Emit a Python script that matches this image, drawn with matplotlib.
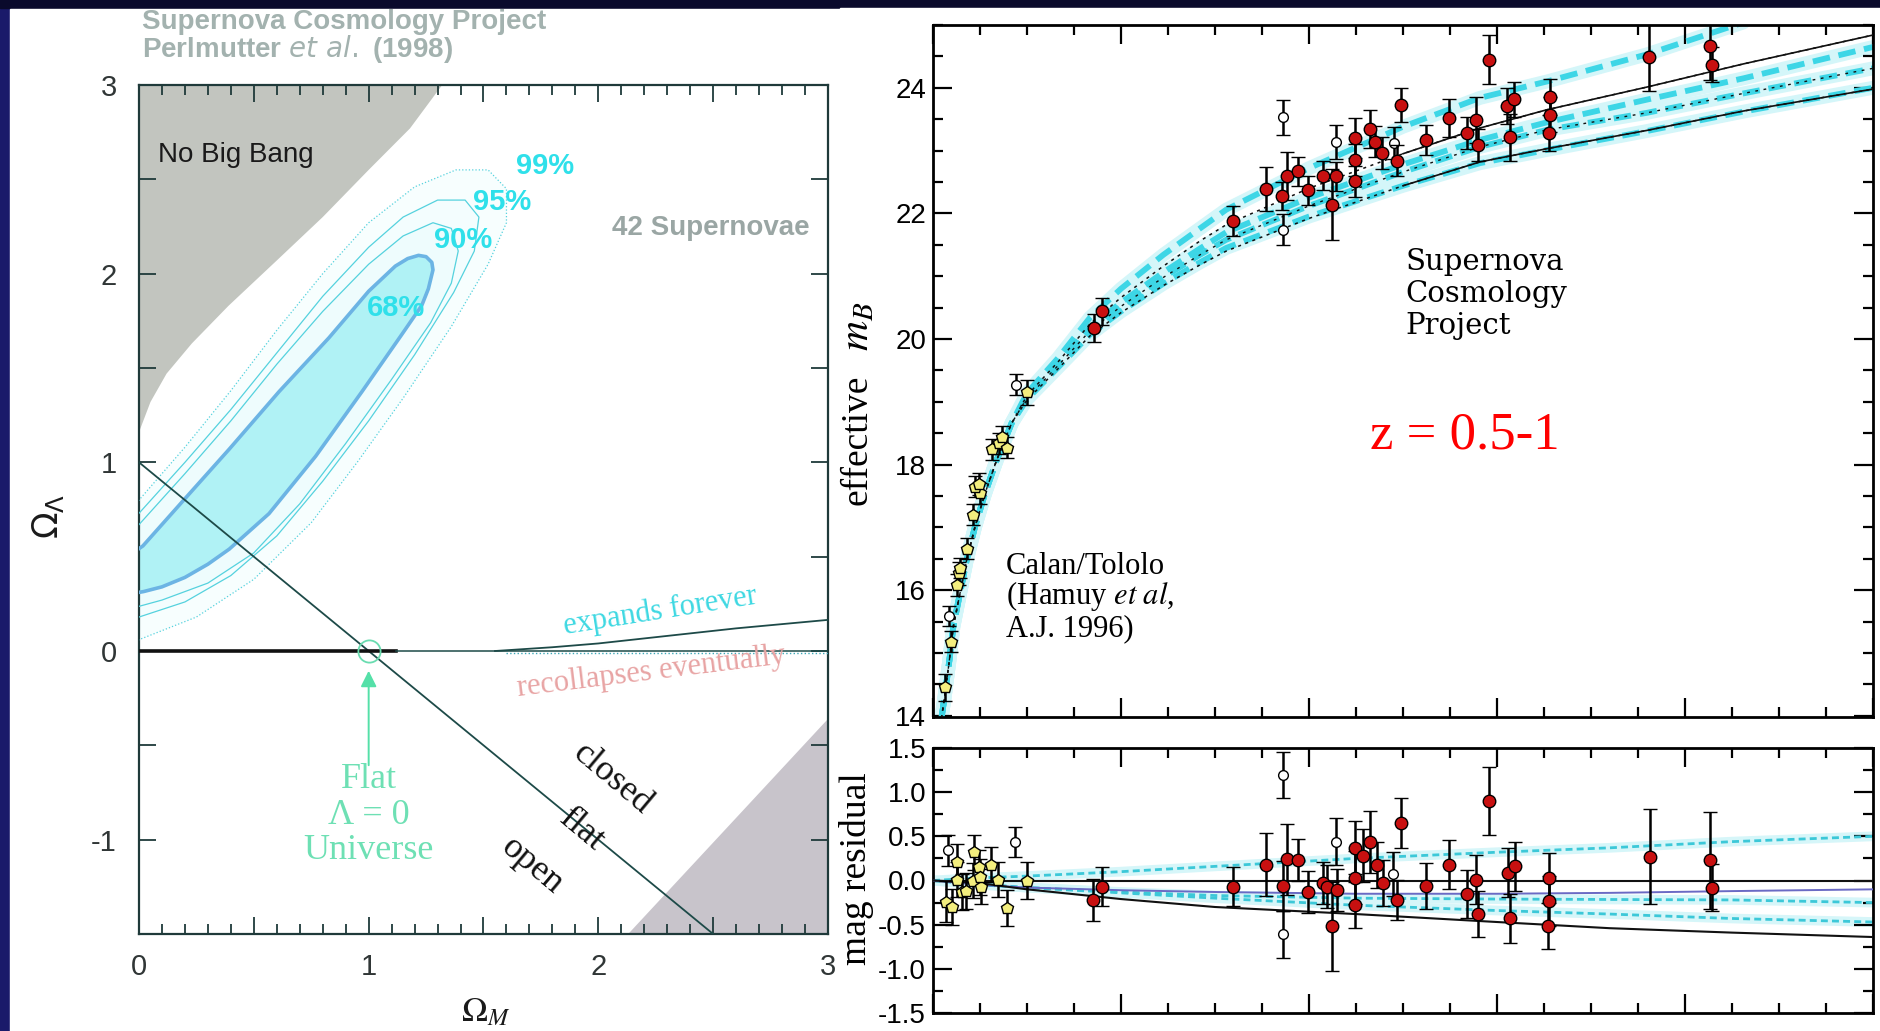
import numpy as np
import matplotlib
matplotlib.use("Agg")
import matplotlib.pyplot as plt
from matplotlib.patches import Rectangle, Polygon
from matplotlib.ticker import MultipleLocator, FuncFormatter

plt.rcParams['font.family'] = ['Liberation Sans', 'DejaVu Sans']
plt.rcParams['axes.unicode_minus'] = False
nan = np.nan

# ---------------- left panel : Omega_M - Omega_Lambda plane ----------------
nobigbang_om = [0.0, 0.05, 0.12, 0.23, 0.39, 0.6, 0.8, 1.0, 1.18, 1.32]
nobigbang_ol = [1.16, 1.32, 1.47, 1.63, 1.83, 2.07, 2.30, 2.55, 2.77, 3.0]
lowgray_om = [2.13, 2.55, 3.0]
lowgray_ol = [-1.5, -0.95, -0.36]
flat_om = [0.0, 2.5]
flat_ol = [1.0, -1.5]
expand_om = [1.55, 1.8, 2.0, 2.3, 2.6, 3.0]
expand_ol = [0.0, 0.02, 0.04, 0.08, 0.12, 0.165]

# confidence contours
c68_om = [-0.05, 0.017, 0.205, 0.393, 0.61, 0.827, 1.0, 1.116, 1.17, 1.217, 1.25,
          1.275, 1.28, 1.26, 1.231, 1.145, 0.971, 0.769, 0.566, 0.393, 0.30, 0.20,
          0.10, 0.02, -0.05]
c68_ol = [0.50, 0.557, 0.814, 1.07, 1.375, 1.66, 1.907, 2.04, 2.08, 2.097, 2.09,
          2.06, 2.02, 1.92, 1.831, 1.679, 1.375, 1.032, 0.728, 0.54, 0.46, 0.39,
          0.34, 0.315, 0.30]
c90_om = [-0.05, 0.0, 0.2, 0.4, 0.6, 0.8, 1.0, 1.15, 1.28, 1.36, 1.39, 1.36, 1.27,
          1.1, 0.9, 0.7, 0.5, 0.3, 0.1, -0.05]
c90_ol = [0.60, 0.67, 0.94, 1.22, 1.52, 1.80, 2.05, 2.20, 2.27, 2.24, 2.12, 1.95, 1.74,
          1.44, 1.10, 0.78, 0.52, 0.36, 0.27, 0.22]
c95_om = [-0.05, 0.0, 0.2, 0.4, 0.6, 0.8, 1.0, 1.15, 1.3, 1.42, 1.48, 1.46, 1.37,
          1.2, 1.0, 0.8, 0.6, 0.4, 0.2, 0.0, -0.05]
c95_ol = [0.66, 0.73, 1.00, 1.28, 1.58, 1.88, 2.14, 2.30, 2.39, 2.39, 2.30, 2.12, 1.90,
          1.57, 1.22, 0.90, 0.61, 0.40, 0.26, 0.18, 0.16]
c99_om = [-0.05, 0.0, 0.2, 0.4, 0.6, 0.8, 1.0, 1.2, 1.38, 1.52, 1.60, 1.60, 1.52,
          1.36, 1.15, 0.95, 0.75, 0.5, 0.25, 0.0, -0.05]
c99_ol = [0.73, 0.80, 1.08, 1.38, 1.70, 2.00, 2.27, 2.46, 2.55, 2.55, 2.45, 2.27, 2.05,
          1.72, 1.34, 1.00, 0.68, 0.38, 0.18, 0.06, 0.03]
conf_labels = ['68%', '90%', '95%', '99%']

# ---------------- right panel : Hubble diagram ----------------
low_z = [0.0128, 0.0188, 0.0259, 0.0280, 0.0287, 0.0358, 0.0422, 0.0500, 0.0447,
         0.0493, 0.0624, 0.0706, 0.0790, 0.0730, 0.1003]
low_m = [14.45, 15.18, 16.08, 16.27, 16.35, 16.66, 17.20, 17.54, 17.65,
         17.69, 18.24, 18.34, 18.27, 18.44, 19.15]
low_err = [0.22, 0.17, 0.18, 0.18, 0.16, 0.17, 0.17, 0.17, 0.17,
           0.17, 0.17, 0.17, 0.17, 0.17, 0.20]

open_z = [0.0170, 0.0883, 0.372, 0.372, 0.429, 0.490]
open_m = [15.59, 19.27, 23.53, 21.74, 23.14, 23.12]
open_err = [0.16, 0.17, 0.28, 0.25, 0.27, 0.25]

hi_z = [0.171, 0.180, 0.3195, 0.354, 0.371, 0.377, 0.388, 0.399, 0.415, 0.424,
        0.429, 0.449, 0.449, 0.449, 0.465, 0.470, 0.478, 0.494, 0.498, 0.525,
        0.549, 0.568, 0.578, 0.580, 0.592, 0.611, 0.618, 0.614, 0.656, 0.656,
        0.655, 0.762, 0.827, 0.829]
hi_m = [20.17, 20.44, 21.88, 22.39, 22.28, 22.60, 22.67, 22.37, 22.60, 22.14,
        22.59, 23.20, 22.85, 22.51, 23.34, 23.14, 22.96, 22.84, 23.73, 23.17,
        23.52, 23.28, 23.49, 23.09, 24.45, 23.71, 23.82, 23.21, 23.85, 23.57,
        23.28, 24.49, 24.67, 24.37]
hi_err = [0.22, 0.22, 0.24, 0.35, 0.22, 0.38, 0.23, 0.23, 0.23, 0.56,
          0.23, 0.32, 0.25, 0.25, 0.30, 0.25, 0.25, 0.25, 0.27, 0.24,
          0.30, 0.25, 0.37, 0.25, 0.39, 0.28, 0.28, 0.37, 0.29, 0.28,
          0.28, 0.54, 0.55, 0.28]

curve_z = [0.009, 0.0128, 0.0174, 0.0216, 0.0287, 0.0358, 0.0447, 0.0553, 0.0677,
           0.0837, 0.1, 0.1333, 0.167, 0.2, 0.245, 0.284, 0.312, 0.4, 0.5, 0.582,
           0.653, 0.759, 0.862, 1.0]
common_m = [13.96, 14.35, 14.88, 15.42, 15.95, 16.48, 17.01, 17.54, 18.07, 18.66]
curve_A = common_m + [19.14, 19.70, 20.34, 20.80, 21.34, 21.76, 22.06, 22.72, 23.38, 23.84, 24.10, 24.53, 25.04, nan]
curve_T = common_m + [19.10, 19.64, 20.24, 20.66, 21.16, 21.56, 21.82, 22.40, 22.95, 23.36, 23.65, 24.01, 24.38, 24.84]
curve_B = common_m + [19.08, 19.61, 20.19, 20.58, 21.06, 21.44, 21.70, 22.25, 22.78, 23.17, 23.45, 23.81, 24.15, 24.65]
curve_C = common_m + [19.06, 19.58, 20.13, 20.52, 20.98, 21.34, 21.58, 22.12, 22.66, 23.06, 23.33, 23.60, 23.91, 24.31]
curve_D = common_m + [19.04, 19.55, 20.07, 20.44, 20.88, 21.22, 21.45, 21.95, 22.44, 22.80, 23.01, 23.31, 23.62, 24.00]
curve_L = common_m + [19.03, 19.53, 20.05, 20.42, 20.85, 21.18, 21.40, 21.92, 22.44, 22.82, 23.03, 23.32, 23.63, 23.98]

# ---------------- residual panel ----------------
rlow_z = [0.0138, 0.0199, 0.0252, 0.0259, 0.0305, 0.0351, 0.0422, 0.0440, 0.0493,
          0.0507, 0.0500, 0.0617, 0.0695, 0.0790, 0.1003]
rlow_r = [-0.24, -0.30, 0.21, 0.01, -0.13, -0.12, 0.00, 0.32, 0.15,
          -0.07, 0.04, 0.18, 0.01, -0.31, 0.00]
rlow_err = [0.23, 0.20, 0.20, 0.20, 0.20, 0.20, 0.20, 0.20, 0.20,
            0.20, 0.20, 0.20, 0.20, 0.20, 0.21]
ropen_z = [0.0163, 0.0872, 0.3727, 0.3727, 0.4287, 0.489]
ropen_r = [0.34, 0.44, 1.19, -0.61, 0.44, 0.075]
ropen_err = [0.18, 0.17, 0.26, 0.27, 0.27, 0.25]
rhi_z = [0.1705, 0.180, 0.3195, 0.354, 0.372, 0.377, 0.388, 0.399, 0.4146, 0.4195,
         0.424, 0.430, 0.449, 0.449, 0.449, 0.457, 0.465, 0.472, 0.479, 0.494,
         0.4975, 0.525, 0.549, 0.568, 0.578, 0.580, 0.592, 0.612, 0.619, 0.614,
         0.6557, 0.6557, 0.6546, 0.763, 0.827, 0.829]
rhi_r = [-0.22, -0.07, -0.07, 0.18, -0.06, 0.24, 0.23, -0.13, -0.03, -0.07,
         -0.52, -0.11, 0.37, 0.03, -0.28, 0.28, 0.44, 0.18, -0.03, -0.22,
         0.65, -0.06, 0.18, -0.15, 0.01, -0.38, 0.90, 0.09, 0.16, -0.43,
         0.03, -0.23, -0.51, 0.27, 0.23, -0.08]
rhi_err = [0.24, 0.22, 0.22, 0.36, 0.28, 0.40, 0.24, 0.24, 0.24, 0.24,
           0.50, 0.24, 0.30, 0.30, 0.26, 0.30, 0.35, 0.26, 0.26, 0.23,
           0.28, 0.26, 0.28, 0.27, 0.28, 0.26, 0.39, 0.28, 0.28, 0.28,
           0.28, 0.28, 0.26, 0.54, 0.55, 0.27]
res_zgrid = [0.0, 0.05, 0.1, 0.2, 0.3, 0.45, 0.6, 0.72, 0.85, 1.0]
res_top = [0.0, 0.03, 0.05, 0.10, 0.16, 0.25, 0.32, 0.37, 0.44, 0.50]
res_zero = [0.0] * 10
res_purple = [0.0, -0.05, -0.08, -0.11, -0.13, -0.15, -0.15, -0.14, -0.12, -0.10]
res_mid = [0.0, -0.05, -0.08, -0.13, -0.17, -0.20, -0.21, -0.215, -0.22, -0.25]
res_low = [0.0, -0.04, -0.08, -0.14, -0.20, -0.28, -0.34, -0.38, -0.43, -0.47]
res_black = [0.0, -0.03, -0.10, -0.21, -0.30, -0.38, -0.47, -0.54, -0.59, -0.64]

W, H = 1881, 1031
fig = plt.figure(figsize=(W / 100, H / 100), dpi=100)
fig.patch.set_facecolor('#1a1a6a')
# slide panels
fig.patches.append(Rectangle((0, 1 - 8 / H), 1, 8 / H, transform=fig.transFigure,
                             color='#0a0a2c', zorder=-2))
fig.patches.append(Rectangle((10 / W, 0), 830 / W, 1 - 9 / H, transform=fig.transFigure,
                             color='white', zorder=-1))
fig.patches.append(Rectangle((840 / W, 0), 1041 / W, 1 - 8 / H, transform=fig.transFigure,
                             color='white', zorder=-1))

# ======================= LEFT PANEL =======================
ax1 = fig.add_axes([139 / W, 1 - 934 / H, 689 / W, 849 / H])
ax1.set_xlim(0, 3)
ax1.set_ylim(-1.5, 3)
frame_c = '#1f3a3a'

ax1.add_patch(Polygon(list(zip(nobigbang_om, nobigbang_ol)) + [(0, 3.0)],
                      closed=True, fc='#c2c5bf', ec='none', zorder=1))
ax1.add_patch(Polygon(list(zip(lowgray_om, lowgray_ol)) + [(3.0, -1.5)],
                      closed=True, fc='#c8c4cb', ec='none', zorder=1))

contours = [(c68_om, c68_ol), (c90_om, c90_ol), (c95_om, c95_ol), (c99_om, c99_ol)]
fills = ['#b0f2f5', '#eefcfd', '#f3fdfe', '#f7fefe']
for i in range(3, -1, -1):
    om, ol = contours[i]
    ax1.add_patch(Polygon(list(zip(om, ol)), closed=True, fc=fills[i], ec='none', zorder=2))
ax1.add_patch(Polygon(list(zip(c68_om, c68_ol)), closed=True, fc='none', ec='#6cb4e4',
                      lw=2.6, joinstyle='round', zorder=4))
styles = [None, '-', '-', ':']
for i in range(1, 4):
    om, ol = contours[i]
    ax1.add_patch(Polygon(list(zip(om, ol)), closed=True, fc='none', ec='#55d2de',
                          lw=0.9, ls=styles[i], joinstyle='round', zorder=4))

label_pos = [(1.12, 1.82), (1.41, 2.18), (1.58, 2.38), (1.77, 2.57)]
for lab, (px, py) in zip(conf_labels, label_pos):
    ax1.text(px, py, lab, color='#2fe0ea', fontsize=21, fontweight='bold',
             ha='center', va='center', zorder=6)

ax1.plot(flat_om, flat_ol, color='#1d4a48', lw=1.3, zorder=5)
ax1.plot([0, 1.12], [0, 0], color='#111111', lw=2.6, zorder=5)
ax1.plot([1.12, 3.0], [0, 0], color='#1d4a48', lw=1.1, zorder=5)
ax1.plot(expand_om, expand_ol, color='#1d4a48', lw=1.3, zorder=5)
ax1.plot([1.6, 3.0], [-0.01, -0.01], color='#3aa8b8', lw=1.0, ls=':', zorder=5)

ax1.plot([1.0], [0.0], 'o', mfc='none', mec='#6adcb0', ms=16, mew=1.3, zorder=6)
ax1.annotate('', xy=(1.0, -0.09), xytext=(1.0, -0.62),
             arrowprops=dict(arrowstyle='-|>', color='#55e0a8', lw=1.4, mutation_scale=24),
             zorder=6)
for txt, py in [('Flat', -0.68), ('Λ = 0', -0.87), ('Universe', -1.06)]:
    ax1.text(1.0, py, txt, color='#6ee0b4', fontsize=26, family='Liberation Serif',
             ha='center', va='center', zorder=6)

ax1.text(0.42, 2.63, 'No Big Bang', fontsize=20, color='#1a1a1a', ha='center', va='center', zorder=6)
ax1.text(2.49, 2.24, '42 Supernovae', fontsize=20, fontweight='bold', color='#9aa6a4',
         ha='center', va='center', zorder=6)
ax1.text(2.27, 0.21, 'expands forever', fontsize=22, color='#3ed8e2', family='Liberation Serif',
         rotation=9, ha='center', va='center', zorder=6)
ax1.text(2.23, -0.11, 'recollapses eventually', fontsize=22, color='#e8a4a4',
         family='Liberation Serif', rotation=7, ha='center', va='center', zorder=6)
for txt, (px, py) in [('closed', (2.06, -0.68)), ('flat', (1.93, -0.95)), ('open', (1.71, -1.14))]:
    ax1.text(px, py, txt, fontsize=26, color='#111111', family='Liberation Serif',
             rotation=-40, ha='center', va='center', zorder=6)

ax1.xaxis.set_major_locator(MultipleLocator(0.5))
ax1.xaxis.set_minor_locator(MultipleLocator(0.1))
ax1.yaxis.set_major_locator(MultipleLocator(0.5))
intfmt = FuncFormatter(lambda v, p: f'{v:.0f}' if abs(v - round(v)) < 1e-6 else '')
ax1.xaxis.set_major_formatter(intfmt)
ax1.yaxis.set_major_formatter(intfmt)
ax1.tick_params(which='both', direction='in', top=True, right=True, color=frame_c,
                width=1.3, labelsize=21, labelcolor='#303636')
ax1.tick_params(which='major', length=12)
ax1.tick_params(which='minor', length=7)
ax1.tick_params(axis='x', pad=14)
ax1.tick_params(axis='y', pad=16)
for s in ax1.spines.values():
    s.set_color(frame_c)
    s.set_linewidth(1.6)

fig.text(48 / W, 1 - 516 / H, r'$\Omega_\Lambda$', rotation=90, fontsize=25,
         ha='center', va='center', color='#1a1a1a', math_fontfamily='dejavusans')
fig.text(486 / W, 1 - 1012 / H, r'$\Omega_M$', fontsize=25, ha='center', va='center',
         color='#1a1a1a', math_fontfamily='stix')
fig.text(142 / W, 1 - 22 / H, 'Supernova Cosmology Project', fontsize=20, fontweight='bold',
         color='#a3b2af', ha='left', va='center')
fig.text(142 / W, 1 - 49 / H, r'Perlmutter $\it{et\ al.}$ (1998)', fontsize=20,
         fontweight='bold', color='#a3b2af', ha='left', va='center')

# ======================= MAIN HUBBLE PANEL =======================
ax2 = fig.add_axes([933 / W, 1 - 717 / H, 940 / W, 692 / H])
ax2.set_xlim(0, 1.0)
ax2.set_ylim(13.98, 25.0)

for cm in [curve_A, curve_B, curve_C, curve_D]:
    ax2.plot(curve_z, cm, color='#d4f6f9', lw=10, solid_capstyle='round', zorder=1)
for cm in [curve_A, curve_B, curve_C, curve_D]:
    ax2.plot(curve_z, cm, color='#3dd6e6', lw=4.2, ls=(0, (3, 1.5)), zorder=2)
hi = slice(18, None)
for cm in [curve_T, curve_L]:
    ax2.plot(curve_z, cm, color='#111111', lw=1.1, ls=(0, (2, 3)), zorder=3)
    ax2.plot(curve_z[hi], cm[hi], color='#111111', lw=1.2, zorder=3)
ax2.plot(curve_z, curve_C, color='#111111', lw=1.0, ls=(0, (2, 4)), zorder=3)

eb = dict(ecolor='black', elinewidth=1.8, capsize=5, capthick=2.2, mec='black', mew=1.0)
ax2.errorbar(low_z, low_m, yerr=low_err, fmt='p', mfc='#f3ee7e', ms=9, zorder=5, **eb)
ax2.errorbar(open_z, open_m, yerr=open_err, fmt='o', mfc='white', ms=7, zorder=5, **eb)
ax2.errorbar(hi_z, hi_m, yerr=hi_err, fmt='o', mfc='#c81010', ms=9, zorder=6, **eb)

ax2.xaxis.set_major_locator(MultipleLocator(0.2))
ax2.xaxis.set_minor_locator(MultipleLocator(0.05))
ax2.yaxis.set_major_locator(MultipleLocator(2))
ax2.yaxis.set_minor_locator(MultipleLocator(0.5))
ax2.tick_params(which='both', direction='in', top=True, right=True, width=1.6,
                labelsize=20, labelbottom=False, pad=5)
ax2.tick_params(which='major', length=14)
ax2.tick_params(which='minor', length=7)
for s in ax2.spines.values():
    s.set_linewidth(2)

serif = 'Liberation Serif'
for txt, py in [('Supernova', 21.23), ('Cosmology', 20.72), ('Project', 20.21)]:
    ax2.text(0.503, py, txt, fontsize=21, family='DejaVu Serif', va='center')
ax2.text(0.0777, 16.38, 'Calan/Tololo', fontsize=22, family=serif, va='center')
ax2.text(0.0777, 15.90, r'(Hamuy $\it{et\ al}$,', fontsize=22, family=serif, va='center',
         math_fontfamily='stix')
ax2.text(0.0777, 15.39, 'A.J. 1996)', fontsize=22, family=serif, va='center')
ax2.text(0.566, 18.47, 'z = 0.5-1', fontsize=38, family=serif, color='#ff0000',
         ha='center', va='center')

fig.text(857 / W, 1 - 440 / H, 'effective', rotation=90, fontsize=27, family=serif,
         ha='center', va='center')
fig.text(857 / W, 1 - 326 / H, r'$m_B$', rotation=90, fontsize=30, ha='center',
         va='center', math_fontfamily='stix')

# ======================= RESIDUAL PANEL =======================
ax3 = fig.add_axes([933 / W, 1 - 1013 / H, 940 / W, 265 / H])
ax3.set_xlim(0, 1.0)
ax3.set_ylim(-1.5, 1.5)

for rr in [res_top, res_mid, res_low]:
    ax3.plot(res_zgrid, rr, color='#d6f6f9', lw=7, zorder=1)
    ax3.plot(res_zgrid, rr, color='#3cc8d8', lw=2.0, ls=(0, (2.5, 1.5)), zorder=2)
ax3.plot(res_zgrid, res_zero, color='#111111', lw=1.5, zorder=3)
ax3.plot(res_zgrid, res_purple, color='#6a6ac4', lw=1.4, zorder=3)
ax3.plot(res_zgrid, res_black, color='#111111', lw=1.5, zorder=3)

ax3.errorbar(rlow_z, rlow_r, yerr=rlow_err, fmt='p', mfc='#f3ee7e', ms=9, zorder=5, **eb)
ax3.errorbar(ropen_z, ropen_r, yerr=ropen_err, fmt='o', mfc='white', ms=7, zorder=5, **eb)
ax3.errorbar(rhi_z, rhi_r, yerr=rhi_err, fmt='o', mfc='#c81010', ms=9, zorder=6, **eb)

ax3.xaxis.set_major_locator(MultipleLocator(0.2))
ax3.xaxis.set_minor_locator(MultipleLocator(0.05))
ax3.yaxis.set_major_locator(MultipleLocator(0.5))
ax3.yaxis.set_minor_locator(MultipleLocator(0.25))
ax3.yaxis.set_major_formatter(FuncFormatter(lambda v, p: f'{v:.1f}'))
ax3.tick_params(which='both', direction='in', top=True, right=True, width=1.6,
                labelsize=20, labelbottom=False, pad=5)
ax3.tick_params(which='major', length=14)
ax3.tick_params(which='minor', length=7)
for s in ax3.spines.values():
    s.set_linewidth(2)

fig.text(857 / W, 1 - 869 / H, 'mag residual', rotation=90, fontsize=27, family=serif,
         ha='center', va='center')

fig.savefig('out.png', dpi=100, facecolor=fig.get_facecolor())
